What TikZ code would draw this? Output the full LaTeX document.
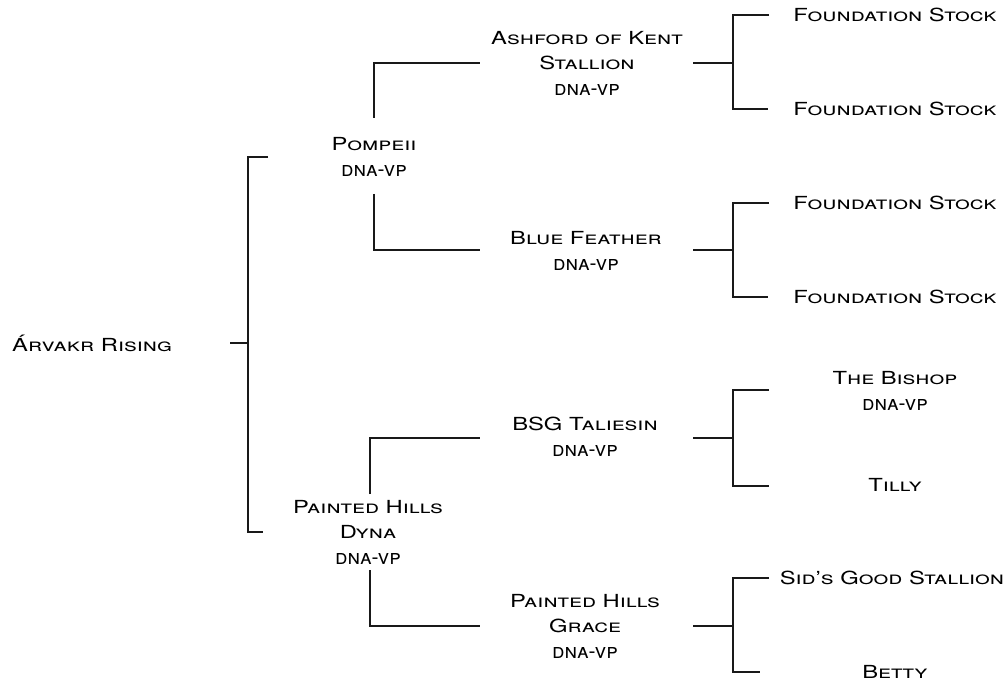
\documentclass[tikz,border=0pt]{standalone}
\usepackage{fontspec}
\setmainfont[FakeStretch=1.32]{TeX Gyre Heros}
\newfontfamily\dnafont[FakeStretch=1.0]{TeX Gyre Heros}
\begin{document}
\begin{tikzpicture}[x=1pt,y=-1pt,
  lbl/.style={inner sep=0pt,align=center,font=\fontsize{18}{25.5}\selectfont\scshape},
  ln/.style={line width=1.3pt,black!90}]
\useasboundingbox (0,0) rectangle (1008,684);
\newcommand{\dnavp}{{\dnafont\fontsize{21}{25.5}\selectfont\textsc{dna-vp}}}
% nodes
\node[lbl] (root) at (92,343) {Árvakr Rising};
\node[lbl] (pom) at (374,157) {Pompeii\\\dnavp};
\node[lbl] (dyna) at (368,532) {Painted Hills\\Dyna\\\dnavp};
\node[lbl] (ash) at (587,63) {Ashford of Kent\\Stallion\\\dnavp};
\node[lbl] (blue) at (586,251) {Blue Feather\\\dnavp};
\node[lbl] (bsg) at (585,437) {BSG Taliesin\\\dnavp};
\node[lbl] (grace) at (585,626) {Painted Hills\\Grace\\\dnavp};
\node[lbl] (f1) at (895,15) {Foundation Stock};
\node[lbl] (f2) at (895,109) {Foundation Stock};
\node[lbl] (f3) at (895,203) {Foundation Stock};
\node[lbl] (f4) at (895,297) {Foundation Stock};
\node[lbl] (bish) at (895,391) {The Bishop\\\dnavp};
\node[lbl] (tilly) at (895,485) {Tilly};
\node[lbl] (sid) at (892,578) {Sid's Good Stallion};
\node[lbl] (betty) at (895,672) {Betty};
% root bracket
\coordinate (r0) at (230,343);
\coordinate (rj) at (248,343);
\coordinate (rt) at (268,157);
\coordinate (rb) at (263,532);
\draw[ln] (r0) -- (rj);
\draw[ln] (rt) -| (rj) |- (rb);
% Pompeii links
\coordinate (pu) at (374,118);
\coordinate (pd) at (374,194);
\coordinate (ae) at (480,63);
\coordinate (be) at (480,250);
\draw[ln] (pu) |- (ae);
\draw[ln] (pd) |- (be);
% Dyna links
\coordinate (du) at (370,494);
\coordinate (dd) at (370,570);
\coordinate (bse) at (480,438);
\coordinate (ge) at (480,626);
\draw[ln] (du) |- (bse);
\draw[ln] (dd) |- (ge);
% right brackets
\foreach \y/\a/\b/\e in {63/15/109/768, 250/203/297/768, 438/390/486/769, 626/578/672/760}{
  \draw[ln] (693,\y) -- (733,\y);
  \draw[ln] (769,\a) -- (733,\a) -- (733,\b) -- (\e,\b);
}
\end{tikzpicture}
\end{document}
